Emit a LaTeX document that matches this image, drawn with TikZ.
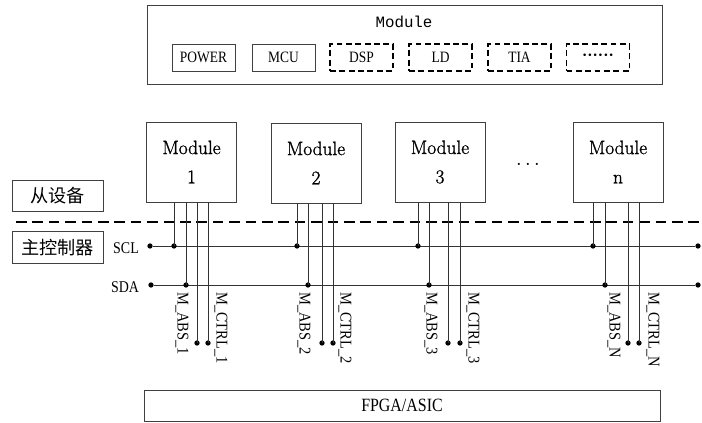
\documentclass[tikz,border=0pt]{standalone}
\usepackage{fontspec}
\newfontfamily\cjk{Noto Sans CJK SC}
\newfontfamily\lib{Liberation Serif}
\newfontfamily\mono{Liberation Mono}
\newfontfamily\modfont[FakeBold=1.2]{Latin Modern Roman}
\usetikzlibrary{positioning}
\newcommand{\narrow}[1]{\scalebox{0.85}[1]{#1}}

\begin{document}
\begin{tikzpicture}[
    x=0.03cm, y=-0.03cm,
    box/.style={draw=black!75, line width=0.6pt, inner sep=0pt, align=center},
    partbox/.style={box, minimum width=1.89cm, minimum height=0.81cm, font=\lib\fontsize{13.5}{15}\selectfont},
    optbox/.style={partbox, draw=black, line width=1.1pt, dash pattern=on 5pt off 3pt},
    modbox/.style={box, minimum width=2.7cm, minimum height=2.4cm, font=\modfont\fontsize{16.5}{19}\selectfont},
    cnbox/.style={box, minimum width=2.73cm, minimum height=0.94cm, font=\cjk\fontsize{15.5}{18}\selectfont},
    sig/.style={font=\lib\fontsize{14}{16}\selectfont, xscale=0.85},
    pinlab/.style={font=\lib\fontsize{14}{16}\selectfont, rotate=-90, xscale=0.88, anchor=west, inner sep=0pt},
    wire/.style={black!80, line width=0.6pt},
    dot/.style={circle, fill=black, inner sep=0pt, minimum size=4.5pt},
]
\useasboundingbox (0,0) rectangle (702,423);

% module contents
\node[box, minimum width=15.45cm, minimum height=2.37cm] (top) at (404.5,44.5) {};
\node[font=\mono\fontsize{13.5}{15}\selectfont] (top-title) at (404,22) {Module};
\node[partbox] (power) at (203.5,57.5) {\narrow{POWER}};
\node[partbox] (mcu) at (283.5,57.5) {\narrow{MCU}};
\node[optbox] (dsp) at (361.5,57.5) {\narrow{DSP}};
\node[optbox] (ld) at (440.5,57.5) {\narrow{LD}};
\node[optbox] (tia) at (519.5,57.5) {\narrow{TIA}};
\node[optbox, font=\lib\bfseries\fontsize{13.5}{15}\selectfont] (more) at (598,57.5) {······};

% slave modules
\node[modbox] (m1) at (191.5,162) {Module\\[6pt]1};
\node[modbox] (m2) at (316,163) {Module\\[6pt]2};
\node[modbox] (m3) at (440,162) {Module\\[6pt]3};
\node[modbox] (mn) at (618,162) {Module\\[6pt]n};
\node[font=\fontsize{16}{19}\selectfont] (ell) at (528,165) {$\cdots$};

% sides
\node[cnbox] (slave) at (57.5,196) {从设备};
\node[cnbox] (master) at (57.5,247.5) {主控制器};
\coordinate (sep-l) at (16,222);
\coordinate (sep-r) at (700,222);
\draw[black, line width=1.3pt, dash pattern=on 9pt off 5pt] (sep-l) -- (sep-r);

% bus
\node[sig] (scl) at (126,248) {SCL};
\node[sig] (sda) at (125,287) {SDA};
\node[dot] (scl-l) at (150,246) {};
\node[dot] (scl-r) at (698,246) {};
\node[dot] (sda-l) at (151,285) {};
\node[dot] (sda-r) at (698,285) {};
\draw[wire] (scl-l) -- (scl-r);
\draw[wire] (sda-l) -- (sda-r);

\foreach \i/\xa/\xb/\xc/\xd/\la/\lc/\t in {1/174/186/197/208/182/221/1, 2/297/308/322/333/304/345/2, 3/418/429/448/460/431/473/3, n/593/605/628/639/614/653/N} {
    \node[dot] (j\i-scl) at (\xa,246) {};
    \node[dot] (j\i-sda) at (\xb,285) {};
    \node[dot] (e\i-abs) at (\xc,343) {};
    \node[dot] (e\i-ctrl) at (\xd,343) {};
    \draw[wire] (j\i-scl.center) -- (j\i-scl |- m\i.south);
    \draw[wire] (j\i-sda.center) -- (j\i-sda |- m\i.south);
    \draw[wire] (e\i-abs.center) -- (e\i-abs |- m\i.south);
    \draw[wire] (e\i-ctrl.center) -- (e\i-ctrl |- m\i.south);
    \node[pinlab] (l\i-abs) at (\la,292) {M\_ABS\_\t};
    \node[pinlab] (l\i-ctrl) at (\lc,292) {M\_CTRL\_\t};
}

% master chip
\node[box, minimum width=15.48cm, minimum height=0.93cm, font=\lib\fontsize{16}{18}\selectfont] (fpga) at (402,405.5) {\narrow{FPGA/ASIC}};
\end{tikzpicture}
\end{document}
